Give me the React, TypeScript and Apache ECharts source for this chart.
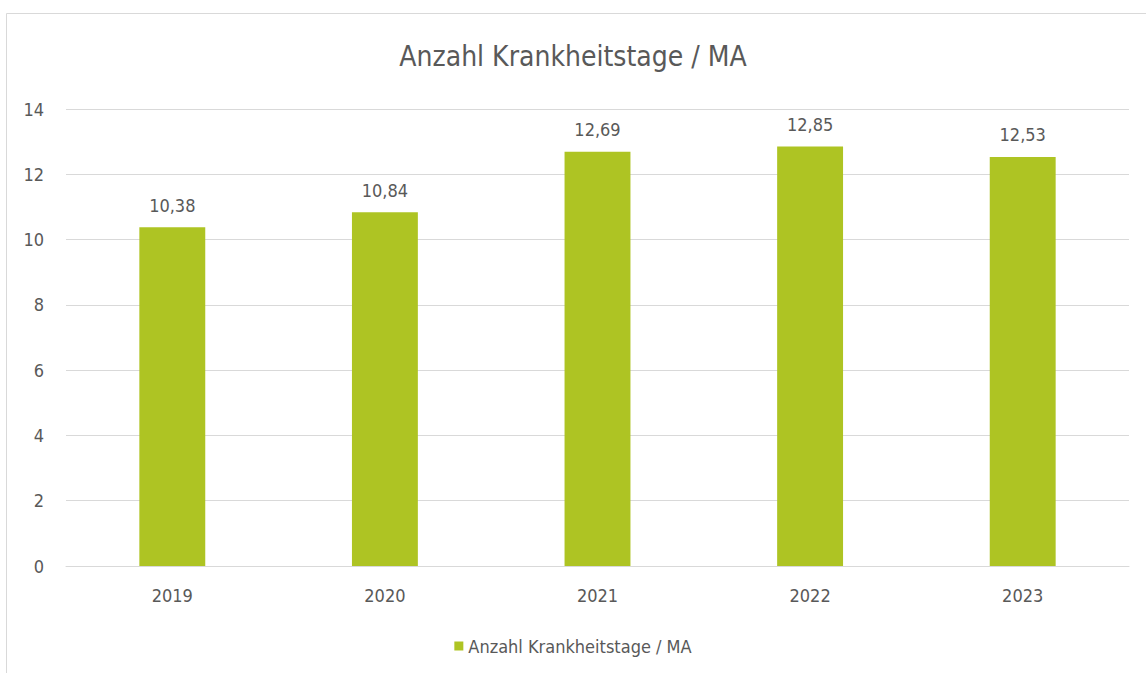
import React, { useEffect, useRef } from "react";
import * as echarts from "echarts";

const categories = ["2019", "2020", "2021", "2022", "2023"];
const values = [10.38, 10.84, 12.69, 12.85, 12.53];
const seriesName = "Anzahl Krankheitstage / MA";
const titleText = "Anzahl Krankheitstage / MA";

const FONT = "'DejaVu Sans Condensed', 'Liberation Sans Narrow', sans-serif";
const TEXT = "#595959";

export default function App() {
  const ref = useRef<HTMLDivElement>(null);
  useEffect(() => {
    const chart = echarts.init(ref.current!, undefined, { renderer: "svg" });
    chart.setOption({
      animation: false,
      backgroundColor: "#ffffff",
      textStyle: { fontFamily: FONT },
      title: {
        text: titleText,
        left: "center",
        top: 37,
        textStyle: { fontFamily: FONT, fontSize: 28, fontWeight: "normal", color: TEXT },
      },
      legend: {
        bottom: 13,
        left: "center",
        itemWidth: 9,
        itemHeight: 9,
        icon: "rect",
        itemGap: 8,
        textStyle: { fontFamily: FONT, fontSize: 18, color: TEXT },
        data: [seriesName],
      },
      graphic: [
        {
          type: "rect",
          shape: { x: 6.5, y: 13.5, width: 1160, height: 700 },
          style: { fill: "none", stroke: "#d9d9d9", lineWidth: 1 },
          silent: true,
        },
      ],
      grid: { left: 66, right: 17, top: 109, bottom: 107, containLabel: false },
      xAxis: {
        type: "category",
        data: categories,
        axisLine: { lineStyle: { color: "#d9d9d9", width: 1 } },
        axisTick: { show: false },
        axisLabel: { color: TEXT, fontSize: 18, fontFamily: FONT, margin: 20 },
      },
      yAxis: {
        type: "value",
        min: 0,
        max: 14,
        interval: 2,
        axisLine: { show: false },
        axisTick: { show: false },
        splitLine: { lineStyle: { color: "#d9d9d9", width: 1 } },
        axisLabel: { color: TEXT, fontSize: 18, fontFamily: FONT, margin: 22 },
      },
      series: [
        {
          name: seriesName,
          type: "bar",
          data: values,
          barWidth: "31%",
          itemStyle: { color: "#AEC423" },
          label: {
            show: true,
            position: "top",
            distance: 13,
            color: TEXT,
            fontSize: 18,
            fontFamily: FONT,
            formatter: (p: any) => p.value.toFixed(2).replace(".", ","),
          },
        },
      ],
    });
    return () => chart.dispose();
  }, []);
  return (
    <div
      ref={ref}
      style={{ position: "absolute", left: 0, top: 0, width: 1146, height: 673 }}
    />
  );
}
